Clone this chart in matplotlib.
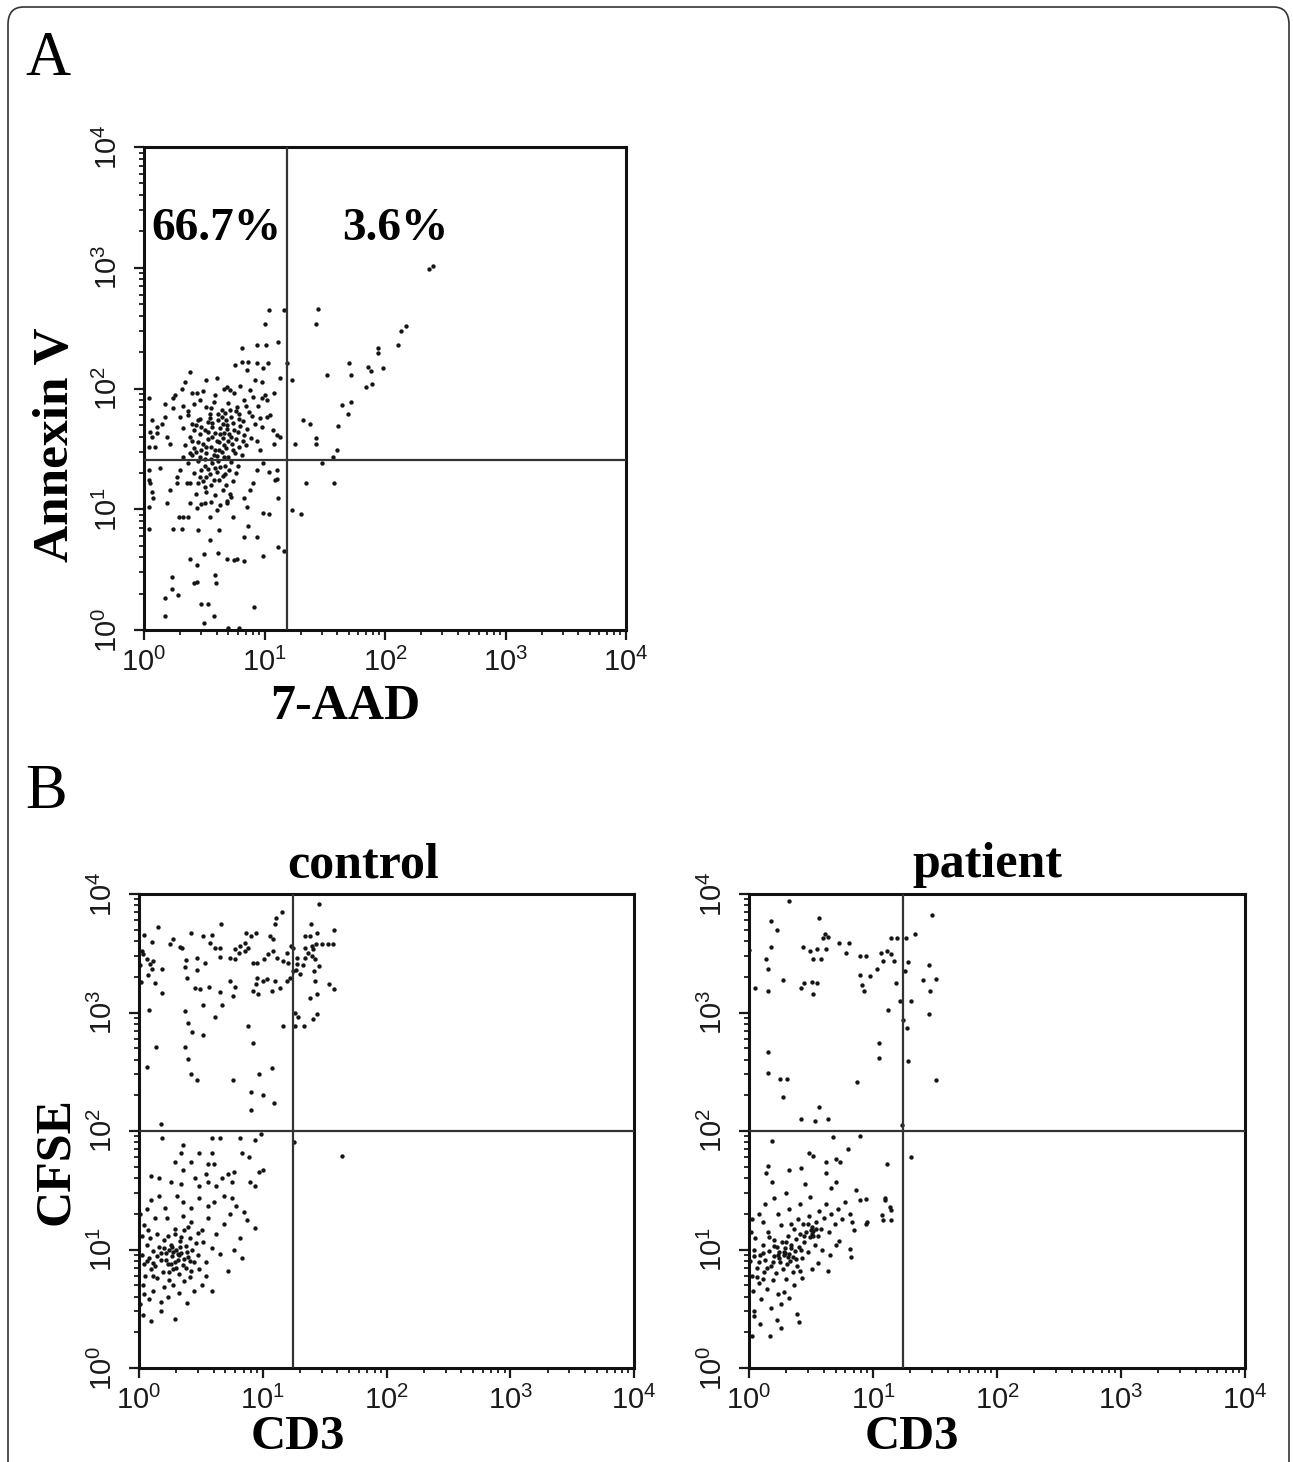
import matplotlib
matplotlib.use('Agg')
import matplotlib.pyplot as plt
from matplotlib.ticker import LogLocator, NullFormatter
from matplotlib.patches import FancyBboxPatch

# ---- data (fluorescence values) ----
decades = [1, 10, 100, 1000, 10000]
decade_labels = [r'$\mathrm{10^{%d}}$' % i for i in range(5)]

annexin_gate = (15.5, 25.5)      # 7-AAD, Annexin V
annexin_pct = ['66.7%', '3.6%']
cd3_gate = 17.5
cfse_gate = 100

# panel A, scattered events
annexin_outer = [
    (230, 980), (250, 1030), (11, 450), (14.5, 445), (28, 455), (27, 345), (10, 340),
    (135, 300), (150, 330), (6.5, 218), (8.7, 230), (10.3, 230), (13, 245),
    (128, 230), (87, 215), (87, 195), (50, 162), (52, 129), (72, 150), (76, 140), (96, 148),
    (78, 110), (69, 102), (33, 129), (44, 73), (52, 78), (49, 61), (41, 49), (40, 31),
    (37, 27), (30, 24), (38, 16.5), (22, 16.5), (21, 55), (24, 51), (27, 39), (27, 35),
    (18, 35), (17, 118), (15.3, 162), (13.5, 122), (12, 92), (17, 9.8), (20, 9.1),
    (14.5, 4.5), (13, 4.9), (13, 12.4), (11, 9.1), (9.8, 4.1), (8.2, 1.55),
    (12.6, 17.8), (12, 34.6), (11, 20.4), (1.7, 2.76), (1.7, 2.2), (1.93, 1.95),
    (1.5, 1.83), (1.5, 1.3), (2.6, 2.45), (2.75, 2.5), (3.0, 1.64), (3.4, 1.64),
    (3.15, 1.15), (3.8, 1.3), (3.9, 2.85), (3.95, 2.43), (5.0, 1.04), (6.2, 1.04),
    (2.4, 3.9), (2.75, 3.45), (5.6, 3.8), (5.9, 3.9), (6.7, 3.7), (4.9, 3.85), (4.1, 4.35),
    (3.15, 4.26), (6.7, 5.9), (8.7, 5.85), (7.3, 7.2), (7.1, 10.5), (5.5, 8.7), (4.2, 6.7),
    (3.53, 5.6), (2.8, 6.7), (2.06, 6.9), (1.73, 6.9), (1.96, 8.7), (2.12, 8.7), (2.33, 8.7),
    (1.54, 11.2), (1.09, 6.9), (1.09, 10.5), (1.19, 12.4), (1.16, 14), (1.12, 16.5),
    (1.09, 17.5), (1.09, 21), (1.36, 21.8), (1.64, 14.4), (1.87, 16.5), (1.87, 18.6),
    (1.09, 33), (1.23, 33), (1.16, 40), (1.27, 43), (1.12, 44), (1.16, 55), (1.27, 48),
    (1.4, 51), (1.09, 83), (1.49, 58), (1.75, 83), (1.81, 88), (2.06, 100), (2.19, 114),
    (2.4, 138), (2.48, 91), (2.74, 91), (3.3, 117), (4.0, 122), (4.86, 103), (5.17, 97),
    (6.46, 166), (5.7, 156), (7.3, 166), (8.6, 162), (7.1, 142), (10.7, 162), (9.8, 147),
    (8.3, 117), (9.5, 114), (10, 88), (9.5, 83), (10.4, 80), (11.1, 60), (10.4, 58),
    (11.8, 45), (12.6, 41), (13.4, 40), (9.2, 57), (9.5, 48), (8.6, 37), (9.2, 31),
    (12.6, 21), (12.2, 17.5), (9.8, 24), (8.6, 21), (8.1, 16.4), (7.6, 14.4), (6.7, 12.3),
    (9.8, 9.25), (5.3, 12.6), (4.86, 11.2), (4.0, 9.9), (3.53, 8.7), (3.2, 11.2),
    (2.74, 10.2), (2.4, 11.2), (2.82, 16.4), (3.2, 15.4), (2.26, 16.4), (2.0, 21),
    (2.12, 27), (2.4, 29), (1.64, 35), (1.54, 40), (1.49, 75), (1.75, 69), (2.12, 71),
    (2.33, 65), (2.0, 58), (2.48, 51), (2.82, 55),
]
# panel A, dense centre of the population
annexin_core = [
    (3.1, 95), (3.9, 88), (4.6, 100), (5.6, 92), (6.3, 105), (7.6, 98), (8.1, 85), (2.9, 80),
    (2.6, 74), (3.3, 70), (3.8, 78), (4.4, 66), (5.0, 76), (5.9, 70), (6.8, 80), (7.4, 64),
    (8.9, 72), (2.3, 60), (2.9, 56), (3.5, 62), (4.1, 55), (4.7, 63), (5.3, 58), (6.1, 61),
    (6.6, 54), (7.9, 59), (2.1, 47), (2.7, 50), (3.2, 45), (3.7, 52), (4.3, 47), (4.9, 50),
    (5.6, 45), (6.3, 49), (7.2, 46), (8.4, 51), (2.4, 40), (2.9, 42), (3.4, 38), (3.9, 43),
    (4.5, 39), (5.1, 42), (5.8, 38), (6.7, 41), (7.7, 39), (2.2, 34), (2.6, 32), (3.1, 35),
    (3.6, 33), (4.2, 36), (4.8, 32), (5.4, 35), (6.1, 33), (7.0, 34), (2.5, 28), (2.9, 27),
    (3.3, 29), (3.8, 28), (4.4, 30), (5.0, 27), (5.7, 29), (6.5, 28), (2.3, 24), (2.8, 25),
    (3.2, 23), (3.7, 24), (4.1, 25), (4.7, 23), (5.3, 24.5), (6.0, 23), (2.6, 20), (3.0, 21),
    (3.5, 19.5), (4.0, 20.5), (4.5, 19), (5.1, 21), (5.8, 20), (2.4, 16.5), (3.1, 17),
    (3.6, 16), (4.2, 17.5), (4.8, 16), (5.5, 17), (2.7, 13.5), (3.3, 14), (3.9, 13),
    (4.5, 14.5), (5.2, 13.5), (3.0, 11), (3.6, 11.5), (4.3, 10.8), (4.9, 11.6),
    (3.4, 44), (4.0, 37), (4.6, 43), (3.0, 31), (3.6, 26), (4.2, 31), (5.2, 66), (4.4, 58),
    (3.4, 53), (2.8, 36), (5.0, 37), (4.6, 27), (3.9, 22), (3.3, 18.5), (5.5, 52),
    (3.7, 40), (4.3, 42), (4.9, 46), (3.3, 33), (3.9, 31), (4.6, 34), (2.6, 45), (3.0, 48),
    (5.3, 40), (6.0, 44), (3.5, 57), (4.1, 61), (4.8, 55), (5.8, 65), (3.2, 26), (4.0, 27.5),
    (4.3, 22.5), (3.4, 21.5), (2.7, 30), (5.5, 31), (6.6, 37), (3.7, 48), (4.5, 51),
    (2.9, 18.5), (4.7, 19.5), (3.8, 17.5), (2.5, 37), (6.2, 56), (7.0, 72), (3.6, 69),
]

# panel B control, CFSE-high events
control_high = [
    (28.6, 8300), (14.4, 7100), (12.9, 6300), (12.6, 5560), (1.43, 5300), (4.6, 5630),
    (24.4, 5630), (27.3, 4720), (37.9, 4980), (2.63, 4720), (3.3, 4430), (3.87, 4520),
    (1.89, 4160), (1.78, 3780), (1.28, 3950), (2.14, 3600), (2.21, 3530), (3.75, 3840),
    (4.1, 3530), (4.5, 3500), (5.97, 3420), (6.55, 3650), (7.19, 3890), (7.3, 4650),
    (8.1, 4430), (8.8, 4720), (11.4, 4430), (12.0, 4160), (22, 4430), (24, 4430), (27, 3780),
    (30, 3780), (33.5, 3780), (37, 3780), (16.8, 3650), (17.7, 3530), (22, 3530),
    (24.9, 3650), (25.6, 3420), (24.9, 3000), (26.2, 2820), (22, 2910), (2.38, 2780),
    (2.96, 2910), (3.4, 2640), (4.5, 2950), (5.4, 2880), (6.0, 2820), (6.4, 3200),
    (7.2, 3310), (7.55, 3530), (8.3, 2640), (9.0, 2640), (10.2, 2850), (11.1, 3100),
    (12.2, 3310), (13.0, 2910), (15.6, 3200), (14.5, 2730), (18.8, 2560), (17.7, 2240),
    (20, 2100), (16.6, 1960), (15.6, 1850), (26, 2220), (28.6, 2480), (26.4, 1850),
    (34, 1740), (37.7, 1580), (24, 1320), (27.3, 1430), (9.0, 1960), (10.1, 1850),
    (10.8, 1900), (12.6, 1850), (11.8, 1520), (13.8, 1620), (8.4, 1520), (8.9, 1740),
    (9.2, 1430), (5.4, 1850), (6.0, 1650), (5.8, 1380), (4.5, 1480), (4.66, 1160),
    (3.3, 1160), (3.1, 1580), (2.84, 1620), (3.7, 1650), (2.36, 2400), (2.43, 1970),
    (2.96, 2280), (1.53, 2320), (1.35, 1790), (1.53, 1460), (1.23, 2560), (1.27, 2320),
    (1.19, 2090), (1.08, 3100), (1.15, 2810), (1.3, 2730), (1.21, 1050), (1.36, 515),
    (1.15, 345), (2.36, 1035), (2.5, 815), (2.67, 690), (2.36, 515), (2.5, 405),
    (2.63, 305), (2.96, 270), (3.3, 650), (4.1, 920), (7.6, 775), (8.4, 550), (5.7, 270),
    (9.4, 305), (11.8, 340), (8.0, 215), (10.0, 203), (12.3, 171), (8.0, 151), (14.7, 775),
    (18.2, 775), (19.4, 910), (21.7, 775), (18.2, 1000), (27.3, 980), (25.6, 875),
    (1.5, 114), (19, 2900), (21, 2500), (16, 2600), (23, 3200), (18.5, 2300),
    (1.02, 2500), (1.05, 3300), (1.03, 1800), (1.1, 4500),
]
# panel B control, CFSE-low events
control_low = [
    (1.53, 88), (2.28, 76), (2.19, 65), (1.95, 55), (3.87, 88), (4.5, 88), (3.08, 65),
    (3.87, 65), (6.6, 88), (8.6, 84), (6.85, 65), (7.7, 60), (9.6, 95), (10, 47), (3.6, 53),
    (4.0, 53), (2.65, 55), (2.28, 47), (1.24, 41.7), (1.44, 40), (1.81, 37), (2.19, 35.5),
    (2.86, 40), (3.08, 34.5), (3.45, 43.5), (3.6, 37), (4.17, 34.5), (4.68, 40), (5.25, 43.5),
    (5.6, 37), (5.85, 45), (7.9, 37), (8.6, 34.5), (9.3, 45), (1.24, 26), (1.44, 28.3),
    (1.62, 22.4), (2.03, 28.3), (2.28, 25), (2.65, 22.4), (3.08, 27), (3.6, 23.3), (4.0, 25),
    (4.87, 28.3), (5.66, 27), (6.1, 23.3), (7.1, 20.6), (7.4, 17.7), (8.6, 15.1), (5.4, 19.8),
    (4.9, 16.3), (4.2, 13.5), (3.6, 18.4), (3.2, 14.5), (2.65, 17), (2.28, 19.1), (1.95, 15),
    (1.68, 18.4), (1.34, 18.4), (1.19, 14.5), (1.39, 13.5), (6.6, 12.4), (5.9, 9.85),
    (5.2, 6.6), (6.85, 8.4), (3.87, 10.2), (4.5, 9.1), (3.45, 7.8), (3.08, 6.9), (2.65, 6.6),
    (3.87, 4.5), (2.45, 3.55), (1.95, 2.6), (1.5, 3.03), (1.24, 2.49), (1.07, 2.8),
    (44, 62), (18, 81),
    (1.05, 9), (1.1, 7.5), (1.12, 6), (1.08, 5), (1.15, 11), (1.2, 8.5), (1.25, 6.8),
    (1.3, 9.8), (1.22, 12.5), (1.35, 7.2), (1.4, 5.8), (1.45, 10.5), (1.5, 8.2), (1.55, 6.4),
    (1.6, 12), (1.65, 9.3), (1.7, 7.5), (1.75, 5.5), (1.8, 11), (1.85, 8.8), (1.9, 6.9),
    (1.95, 13.5), (2.0, 10), (2.05, 8.1), (2.1, 6.2), (2.15, 11.8), (2.2, 9.4), (2.25, 7.4),
    (2.3, 14.5), (2.4, 10.8), (2.5, 8.6), (2.6, 12.5), (2.7, 9.9), (2.8, 7.8), (2.9, 11.3),
    (3.0, 13.8), (1.9, 9.6), (2.0, 7.0), (1.8, 7.6), (1.1, 4.2), (1.3, 4.5), (1.6, 4.8),
    (1.9, 5.0), (2.3, 5.4), (2.6, 5.9), (1.02, 3.5), (1.2, 3.8), (1.5, 3.6), (1.7, 4.0),
    (2.1, 4.3), (3.2, 5.0), (3.5, 6.0), (1.05, 13), (1.1, 16), (1.02, 20), (1.15, 22),
    (2.8, 4.5), (1.6, 10.2), (1.75, 9.9), (2.1, 8.9), (1.4, 8.8), (1.3, 6.0), (1.15, 8.0),
    (2.4, 7.0), (2.6, 8.0), (2.2, 12.8), (1.7, 13), (2.5, 15.5), (3.3, 11.5), (3.0, 9.0),
    (1.85, 10.4), (2.05, 9.2), (1.65, 8.2), (1.95, 7.8), (2.3, 8.3), (1.5, 9.4), (1.3, 7.7),
    (2.45, 9.6), (2.15, 10.6), (1.75, 6.5),
]

# panel B patient, CFSE-high events
patient_high = [
    (2.1, 8720), (3.64, 6270), (29.7, 6620), (1.51, 5880), (1.67, 4940), (4.08, 4570),
    (3.98, 4220), (4.36, 4370), (5.3, 3890), (6.4, 3890), (6.05, 3200), (1.51, 3600),
    (1.36, 2850), (1.43, 2330), (2.72, 3600), (3.13, 3310), (3.3, 2850), (3.56, 3460),
    (4.14, 3460), (3.84, 2850), (7.9, 3020), (8.7, 3020), (11.5, 3200), (12.9, 3310),
    (13.9, 3090), (14.8, 2740), (12, 2740), (13.9, 4280), (15.5, 4280), (18.6, 4280),
    (22, 4640), (19.2, 2670), (18.1, 2240), (28.2, 2510), (32, 1910), (25.5, 1890),
    (28.6, 1510), (28.2, 980), (1.12, 1610), (1.43, 1510), (1.87, 1890), (2.63, 1610),
    (2.79, 1780), (3.25, 1800), (3.56, 1780), (3.3, 1420), (7.9, 2080), (8.2, 1700),
    (8.5, 1510), (9.5, 2040), (10.7, 2330), (15.3, 1780), (16.6, 1240), (17.4, 870),
    (18.8, 745), (20.3, 1245), (13.1, 1060), (19.3, 390), (11.1, 552), (11.1, 413),
    (1.42, 464), (1.42, 309), (1.77, 274), (2.01, 274), (1.87, 195), (7.47, 257), (32, 272),
    (2.63, 126), (3.64, 159), (3.43, 121), (4.3, 126), (17.1, 112), (1.0, 3400),
]
# panel B patient, CFSE-low events
patient_low = [
    (1.54, 82), (20.3, 60), (4.8, 89), (7.9, 90), (3.06, 65), (3.3, 62), (4.14, 55), (5.0, 57.5),
    (6.3, 70), (5.4, 55), (12.9, 52.7), (1.43, 51), (1.38, 44), (1.54, 37), (2.1, 47),
    (2.63, 49), (2.83, 36), (4.14, 44), (5.0, 37), (4.6, 33), (7.3, 32), (7.8, 26), (8.8, 26.7),
    (12.6, 26), (13.9, 21.4), (13.9, 17.6), (12.0, 17.6), (8.8, 16.3), (6.8, 17), (7.0, 14.5),
    (6.5, 10.1), (6.7, 8.7), (5.3, 11.9), (4.3, 6.6), (1.1, 2.76), (1.23, 2.36), (1.49, 1.86),
    (1.8, 2.18), (1.67, 2.55), (2.44, 2.87), (2.53, 2.45), (1.06, 1.86), (11.8, 19.7),
    (12.5, 27), (13.7, 23), (8.9, 17),
    (1.02, 8), (1.05, 6), (1.08, 4.5), (1.1, 10), (1.12, 12.5), (1.15, 7), (1.2, 5.2),
    (1.22, 9), (1.25, 3.8), (1.3, 11), (1.32, 6.5), (1.35, 8.2), (1.4, 4.6), (1.42, 14),
    (1.45, 9.8), (1.5, 7.2), (1.55, 5.5), (1.58, 12), (1.6, 8.8), (1.65, 6.3), (1.68, 10.5),
    (1.72, 4.2), (1.75, 9.5), (1.78, 7.8), (1.8, 16), (1.85, 11.5), (1.88, 6.8), (1.9, 8.9),
    (1.95, 10.2), (2.0, 5.6), (2.02, 7.5), (2.05, 13), (2.1, 9.2), (2.15, 8.0), (2.2, 11),
    (2.25, 6.5), (2.3, 15), (2.35, 9.8), (2.4, 12.2), (2.45, 7.3), (2.5, 18), (2.55, 10.5),
    (2.6, 13.5), (2.7, 8.5), (2.75, 16.5), (2.8, 11.5), (2.9, 14), (3.0, 9.5), (3.05, 19),
    (3.1, 12.8), (3.2, 15.5), (3.25, 13.5), (3.3, 14.2), (3.4, 11), (3.5, 17), (3.6, 13),
    (3.7, 21), (3.8, 15), (3.9, 10), (4.0, 18.5), (4.2, 24), (4.4, 14), (4.6, 20),
    (4.9, 16.5), (5.2, 22), (5.6, 18), (6.0, 25), (6.5, 20), (2.1, 22), (1.7, 20), (2.6, 24),
    (3.1, 28), (1.3, 17), (1.5, 3.2), (1.9, 4.4), (2.3, 5.0), (2.7, 5.8), (3.2, 6.8),
    (1.1, 3.0), (1.8, 3.5), (2.1, 3.9), (1.35, 24), (1.6, 27), (2.0, 30), (1.2, 20),
    (1.03, 14), (1.05, 18), (4.5, 9.0), (3.6, 7.7), (5.0, 11), (1.9, 9.6), (2.05, 8.6),
    (1.7, 9.0), (2.2, 10.2), (1.55, 7.9), (3.3, 13.0), (3.45, 15.0), (2.4, 8.3), (1.3, 5.6),
    (1.15, 5.9), (2.6, 6.6), (3.0, 16.5), (2.2, 16.5), (1.45, 12.8),
    (1.75, 8.4), (1.95, 9.4), (2.25, 8.7), (1.6, 10.8), (2.0, 11.5), (1.4, 7.0), (1.2, 7.8),
    (2.8, 13.0), (3.15, 14.6), (1.1, 8.8), (1.3, 9.3), (2.65, 10.0),
]

W, H = 1293, 1462
SERIF = 'Liberation Serif'
plt.rcParams['mathtext.fontset'] = 'custom'
plt.rcParams['mathtext.rm'] = 'Liberation Sans'
plt.rcParams['font.family'] = ['Liberation Sans', 'DejaVu Sans']


def px_box(left, top, right, bottom):
    return [left / W, 1 - bottom / H, (right - left) / W, (bottom - top) / H]


def dot_plot(ax, pts, gx, gy):
    xs = [p[0] for p in pts]
    ys = [p[1] for p in pts]
    ax.scatter(xs, ys, s=10, c='#151515', marker='o', linewidths=0, zorder=2)
    ax.set_xscale('log')
    ax.set_yscale('log')
    ax.set_xlim(1, 1e4)
    ax.set_ylim(1, 1e4)
    ax.axvline(gx, color='#333333', lw=1.6, zorder=3)
    ax.axhline(gy, color='#333333', lw=1.6, zorder=3)
    ax.set_xticks(decades)
    ax.set_xticklabels(decade_labels)
    ax.set_yticks(decades)
    ax.set_yticklabels(decade_labels, rotation=90, va='center')
    for axis in (ax.xaxis, ax.yaxis):
        axis.set_minor_locator(LogLocator(base=10, subs=range(2, 10), numticks=20))
        axis.set_minor_formatter(NullFormatter())
    ax.tick_params(which='major', direction='out', length=7, width=1.6,
                   labelsize=21, colors='#1a1a1a')
    ax.tick_params(axis='x', which='major', pad=6)
    ax.tick_params(axis='y', which='major', pad=8)
    ax.tick_params(which='minor', direction='out', length=3.5, width=1.3, colors='#1a1a1a')
    for s in ax.spines.values():
        s.set_linewidth(2.2)
        s.set_color('#111111')


fig = plt.figure(figsize=(W / 100, H / 100), dpi=100)

# rounded frame around the whole figure
frame = FancyBboxPatch((8 / W, -0.05), (1289 - 8) / W, 1.05 - 7 / H,
                       boxstyle='round,pad=0,rounding_size=0.012',
                       transform=fig.transFigure, fill=False, lw=1.2,
                       ec='#333333', clip_on=False)
fig.add_artist(frame)

# ---- panel A ----
axA = fig.add_axes(px_box(144, 147, 626, 630))
dot_plot(axA, annexin_outer + annexin_core, *annexin_gate)
axA.text(0.015, 0.808, annexin_pct[0], transform=axA.transAxes, ha='left',
         va='baseline', fontsize=34, fontweight='bold', family=SERIF)
axA.text(0.411, 0.808, annexin_pct[1], transform=axA.transAxes, ha='left',
         va='baseline', fontsize=34, fontweight='bold', family=SERIF)
fig.text(25 / W, 1 - 75 / H, 'A', fontsize=45, family=SERIF, ha='left', va='baseline')
fig.text(56 / W, 1 - 445 / H, 'Annexin V', rotation=90, ha='center', va='center',
         fontsize=37, fontweight='bold', family=SERIF)
fig.text(345 / W, 1 - 719 / H, '7-AAD', ha='center', va='baseline',
         fontsize=36, fontweight='bold', family=SERIF)

# ---- panel B ----
fig.text(25 / W, 1 - 808 / H, 'B', fontsize=45, family=SERIF, ha='left', va='baseline')

axC = fig.add_axes(px_box(139, 894, 634, 1368))
dot_plot(axC, control_high + control_low, cd3_gate, cfse_gate)
fig.text(363 / W, 1 - 877 / H, 'control', ha='center', va='baseline',
         fontsize=36, fontweight='bold', family=SERIF)
fig.text(298 / W, 1 - 1449 / H, 'CD3', ha='center', va='baseline',
         fontsize=35, fontweight='bold', family=SERIF)

axP = fig.add_axes(px_box(749, 894, 1245, 1368))
dot_plot(axP, patient_high + patient_low, cd3_gate, cfse_gate)
fig.text(987 / W, 1 - 877 / H, 'patient', ha='center', va='baseline',
         fontsize=36, fontweight='bold', family=SERIF)
fig.text(912 / W, 1 - 1449 / H, 'CD3', ha='center', va='baseline',
         fontsize=35, fontweight='bold', family=SERIF)

fig.text(56 / W, 1 - 1161 / H, 'CFSE', rotation=90, ha='center', va='center',
         fontsize=36, fontweight='bold', family=SERIF)

fig.savefig('out.png', dpi=100)
